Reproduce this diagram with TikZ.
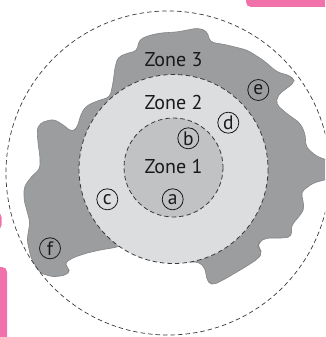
\documentclass[tikz,border=0pt]{standalone}
\usepackage{fontspec}
\setmainfont{PT Sans}
\definecolor{blobgray}{HTML}{9C9D9F}
\definecolor{blobline}{HTML}{838486}
\definecolor{ztwo}{HTML}{DCDDDE}
\definecolor{zone}{HTML}{C1C2C4}
\definecolor{pinkc}{HTML}{F172AA}
\definecolor{dashc}{HTML}{3A3A3A}
\tikzset{
  zonedash/.style={draw=dashc, line width=0.8pt, dash pattern=on 4.5pt off 3pt},
  zonelabel/.style={anchor=base, inner sep=0pt, font=\fontsize{20}{24}\selectfont, text=black!90},
  marker/.style={circle, draw=black!90, line width=0.8pt, minimum size=21pt, inner sep=0pt,
    font=\fontsize{19.5}{20}\selectfont, text=black!90},
  pinkbox/.style={fill=pinkc, draw=none, rounded corners=5pt}
}
\begin{document}
\begin{tikzpicture}[x=1pt,y=-1pt]
\useasboundingbox (0,0) rectangle (325,337);
\begin{scope}
\clip (0,0) rectangle (325,337);
% pink decorations
\fill[pinkbox] (246,-10) rectangle (340,7);
\fill[pinkbox] (-10,267) rectangle (7,350);
\fill[pinkbox] (-10,212) rectangle (1.5,230);
% zone 3 blob
\draw[fill=blobgray, draw=blobline, line width=0.6pt, rounded corners=4pt]
  (118,247) -- (100,250) -- (87,253) -- (72,258) -- (64,264) -- (70,269) -- (67,275)
  -- (53,277) -- (40,273) -- (31,258) -- (27,240) -- (30,222) -- (24,200) -- (24,187)
  -- (31,177) -- (40,169) -- (40,157) -- (38,143) -- (37,130) -- (40,123) -- (53,119)
  -- (62,124) -- (72,132) -- (77,128) -- (81,114) -- (86,106) -- (97,101) -- (110,97)
  -- (113,83) -- (115,67) -- (118,57) -- (128,53) -- (137,51) -- (139,40) -- (147,36)
  -- (160,33) -- (177,32) -- (198,28) -- (207,31) -- (210,42) -- (227,45) -- (247,50)
  -- (263,60) -- (277,72) -- (291,76) -- (295,82) -- (287,88) -- (278,95) -- (276,104)
  -- (286,113) -- (300,123) -- (305,133) -- (306,147) -- (316,156) -- (332,162)
  -- (332,178) -- (313,183) -- (301,192) -- (303,200) -- (304,210) -- (297,219)
  -- (291,226) -- (292,236) -- (285,238) -- (266,238) -- (259,242) -- (258,247)
  -- (262,252) -- (259,258) -- (247,266) -- (225,279) -- (213,285) -- (207,281)
  -- (205,268) -- (199,262) -- (185,262) -- (150,230) -- cycle;
% zone 2 and zone 1
\draw[zonedash, fill=ztwo] (173.5,169) circle[radius=94.5];
\draw[zonedash, fill=zone] (173.5,167.5) circle[radius=49.5];
% outer boundary
\draw[zonedash, line width=0.7pt] (168,173) circle[radius=162];
\end{scope}
% labels
\node[zonelabel] (z3) at (173.5,66.5) {Zone 3};
\node[zonelabel] (z2) at (173.5,109) {Zone 2};
\node[zonelabel] (z1) at (173.5,173) {Zone 1};
\node[marker] (a) at (172.7,199.3) {a};
\node[marker] (b) at (188.3,138.3) {b};
\node[marker] (c) at (107.3,199.3) {c};
\node[marker] (d) at (228.3,122.7) {d};
\node[marker] (e) at (258.3,90) {e};
\node[marker] (f) at (50,248.3) {f};
\end{tikzpicture}
\end{document}
